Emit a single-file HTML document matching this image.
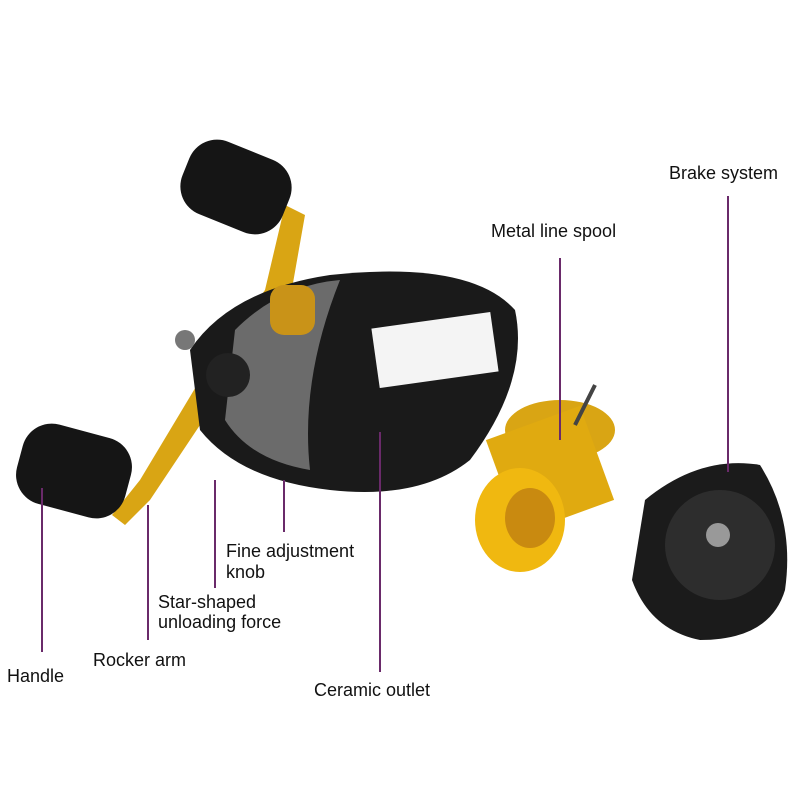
<!DOCTYPE html><html><head><style>body{margin:0;background:#fff}svg{display:block}text{font-family:"Liberation Sans",sans-serif;font-size:18px;fill:#111}</style></head><body>
<svg width="800" height="800" viewBox="0 0 800 800">
<rect width="800" height="800" fill="#fff"/>
<!-- handle arm -->
<path d="M285 205 L305 215 L290 300 L230 380 L150 500 L125 525 L112 515 L140 480 L200 380 L265 290 Z" fill="#d9a514"/>
<rect x="182" y="148" width="108" height="78" rx="30" fill="#151515" transform="rotate(22 236 187)"/>
<rect x="18" y="430" width="112" height="82" rx="30" fill="#151515" transform="rotate(15 74 471)"/>
<!-- reel body -->
<path d="M190 350 Q230 290 330 275 Q470 260 515 310 Q530 380 470 460 Q420 500 330 490 Q240 480 200 430 Z" fill="#1a1a1a"/>
<path d="M235 330 Q280 285 340 280 Q300 380 310 470 Q250 460 225 420 Z" fill="#6b6b6b"/>
<rect x="270" y="285" width="45" height="50" rx="14" fill="#c99318"/>
<circle cx="228" cy="375" r="22" fill="#222"/>
<circle cx="185" cy="340" r="10" fill="#777"/>
<rect x="375" y="320" width="120" height="60" fill="#f4f4f4" transform="rotate(-8 435 350)"/>
<!-- spool -->
<ellipse cx="560" cy="430" rx="55" ry="30" fill="#d9a514"/>
<rect x="500" y="420" width="100" height="100" fill="#e0aa10" transform="rotate(-20 550 470)"/>
<ellipse cx="520" cy="520" rx="45" ry="52" fill="#f0b810"/>
<ellipse cx="530" cy="518" rx="25" ry="30" fill="#c98a10"/>
<line x1="575" y1="425" x2="595" y2="385" stroke="#444" stroke-width="4"/>
<!-- brake -->
<path d="M645 500 Q700 455 760 465 Q795 520 785 590 Q770 640 700 640 Q650 630 632 580 Z" fill="#1b1b1b"/>
<circle cx="720" cy="545" r="55" fill="#2d2d2d"/>
<circle cx="718" cy="535" r="12" fill="#999"/>
<!-- leader lines -->
<g stroke="#6a2a6a" stroke-width="2">
<line x1="42" y1="488" x2="42" y2="652"/>
<line x1="148" y1="505" x2="148" y2="640"/>
<line x1="215" y1="480" x2="215" y2="588"/>
<line x1="284" y1="480" x2="284" y2="532"/>
<line x1="380" y1="432" x2="380" y2="672"/>
<line x1="560" y1="258" x2="560" y2="440"/>
<line x1="728" y1="196" x2="728" y2="472"/>
</g>
<text x="7" y="682">Handle</text>
<text x="93" y="666">Rocker arm</text>
<text x="158" y="608">Star-shaped</text>
<text x="158" y="628">unloading force</text>
<text x="226" y="557">Fine adjustment</text>
<text x="226" y="578">knob</text>
<text x="314" y="696">Ceramic outlet</text>
<text x="491" y="237">Metal line spool</text>
<text x="669" y="179">Brake system</text>
</svg></body></html>
